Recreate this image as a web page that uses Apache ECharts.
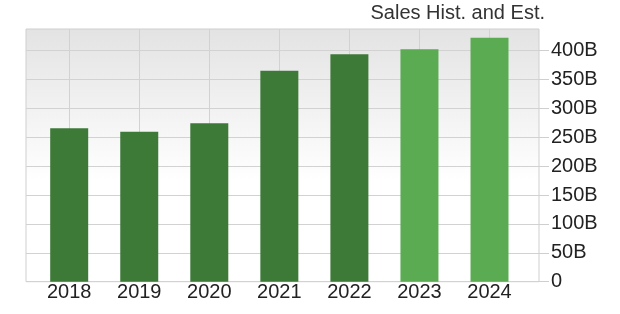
<!DOCTYPE html>
<html>
<head>
<meta charset="utf-8">
<script src="https://cdn.jsdelivr.net/npm/echarts@6/dist/echarts.min.js"></script>
<style>
html,body{margin:0;padding:0;background:#fff;}
#chart{width:620px;height:314px;}
</style>
</head>
<body>
<div id="chart"></div>
<script>
var titleText = 'Sales Hist. and Est.';
var years = ['2018', '2019', '2020', '2021', '2022', '2023', '2024'];
var sales = [265.6, 259.7, 274.3, 365.4, 393.8, 402.4, 422.5];
var isEstimate = [false, false, false, false, false, true, true];
var yTicks = [0, 50, 100, 150, 200, 250, 300, 350, 400];
var yMax = 437.6;

var FONT = "'Liberation Sans', Arial, sans-serif";
var chart = echarts.init(document.getElementById('chart'), null, {renderer: 'canvas'});
chart.setOption({
  animation: false,
  backgroundColor: '#fff',
  title: {
    text: titleText,
    right: 75,
    top: 3,
    padding: 0,
    textStyle: {fontFamily: FONT, fontSize: 20, fontWeight: 'normal', color: '#333'}
  },
  grid: [
    {
      left: 26, right: 81, top: 29, bottom: 32.3,
      show: true,
      borderColor: '#cfcfcf',
      borderWidth: 1,
      backgroundColor: {
        type: 'linear', x: 0, y: 0, x2: 0, y2: 1,
        colorStops: [{offset: 0, color: '#e3e3e3'}, {offset: 0.6, color: '#ffffff'}, {offset: 1, color: '#ffffff'}]
      }
    },
    {left: 69.2, right: 130.5, top: 29, bottom: 32.3}
  ],
  xAxis: [
    {gridIndex: 0, type: 'category', data: years, show: false},
    {
      gridIndex: 1, type: 'category', data: years, boundaryGap: false,
      axisLine: {show: false}, axisTick: {show: false},
      splitLine: {show: true, lineStyle: {color: '#d2d2d2', width: 1}},
      axisLabel: {fontFamily: FONT, fontSize: 20, color: '#222', margin: 1}
    }
  ],
  yAxis: [
    {
      gridIndex: 0, type: 'value', position: 'right', min: 0, max: yMax,
      axisLine: {show: false},
      axisTick: {show: true, length: 10, customValues: yTicks, lineStyle: {color: '#cfcfcf'}},
      splitLine: {show: true, lineStyle: {color: '#d2d2d2', width: 1}},
      axisLabel: {
        customValues: yTicks,
        fontFamily: FONT, fontSize: 20, color: '#222', margin: 12,
        formatter: function (v) { return v === 0 ? '0' : v + 'B'; }
      }
    },
    {gridIndex: 1, type: 'value', min: 0, max: yMax, show: false}
  ],
  series: [{
    type: 'bar',
    xAxisIndex: 1, yAxisIndex: 1,
    data: sales,
    barWidth: 38,
    clip: false,
    itemStyle: {
      color: function (p) { return isEstimate[p.dataIndex] ? '#5aab52' : '#3d7a38'; }
    }
  }]
});
</script>
</body>
</html>
